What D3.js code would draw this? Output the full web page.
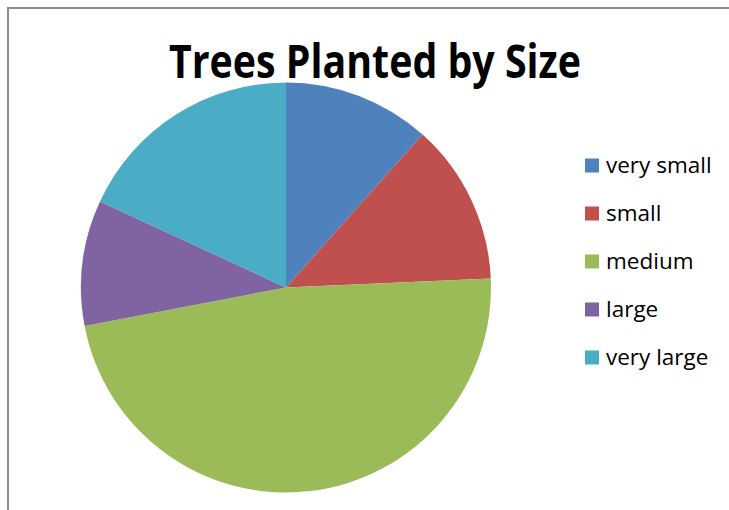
<!DOCTYPE html>
<html>
<head>
<meta charset="utf-8">
<script src="https://cdn.jsdelivr.net/npm/d3@7"></script>
<style>
  html, body { margin: 0; padding: 0; background: #fff; }
  svg { display: block; }
</style>
</head>
<body>
<svg id="chart" width="729" height="510"></svg>
<script>
const categories = ["very small", "small", "medium", "large", "very large"];
const values = [11.6, 12.7, 47.7, 9.9, 18.1];
const colors = ["#4f81bd", "#c0504d", "#9bbb59", "#8064a2", "#4bacc6"];
const title = "Trees Planted by Size";

const svg = d3.select("#chart");

// frame (top and left edges)
svg.append("path")
  .attr("d", "M8,510 L8,8 L729,8")
  .attr("fill", "none")
  .attr("stroke", "#8c8c8c")
  .attr("stroke-width", 2);

// title
const t = svg.append("text")
  .attr("x", 375)
  .attr("y", 78)
  .attr("text-anchor", "middle")
  .attr("font-family", "'Open Sans', 'Noto Sans', sans-serif")
  .attr("font-weight", "bold")
  .attr("font-size", 46)
  .attr("fill", "#000")
  .text(title);
const tw = t.node().getComputedTextLength();
if (Math.abs(tw - 412) > 2) {
  t.attr("textLength", 412).attr("lengthAdjust", "spacingAndGlyphs");
}

// pie
const cx = 286, cy = 287.5, r = 205;
const pie = d3.pie().sort(null).value(d => d)(values);
const arc = d3.arc().innerRadius(0).outerRadius(r);
const color = d3.scaleOrdinal().domain(categories).range(colors);

svg.append("g")
  .attr("transform", `translate(${cx},${cy})`)
  .selectAll("path")
  .data(pie)
  .join("path")
  .attr("d", arc)
  .attr("fill", (d, i) => color(categories[i]));

// legend
const ly = d3.scalePoint().domain(categories).range([165.5, 357.5]);
const lg = svg.append("g")
  .selectAll("g")
  .data(categories)
  .join("g")
  .attr("transform", d => `translate(585,${ly(d)})`);
lg.append("rect")
  .attr("x", 0).attr("y", -7)
  .attr("width", 14).attr("height", 14)
  .attr("fill", d => color(d));
lg.append("text")
  .attr("x", 21).attr("y", 7.5)
  .attr("font-family", "'Open Sans', 'Noto Sans', sans-serif")
  .attr("font-size", 22.5)
  .attr("fill", "#000")
  .text(d => d);
</script>
</body>
</html>
